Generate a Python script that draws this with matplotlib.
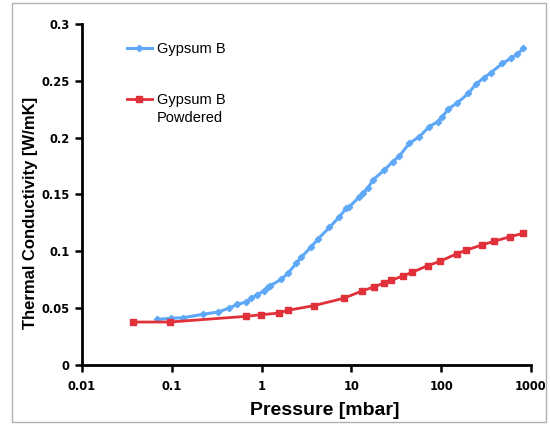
#Thermal conductivity vs pressure grapher

import matplotlib
matplotlib.use('Agg')
import matplotlib.pyplot as plt
from matplotlib.patches import Rectangle

# Gypsum B (blue)
gypsum_p = [0.069, 0.099, 0.134, 0.223, 0.327, 0.43, 0.537, 0.676, 0.769, 0.887,
            1.05, 1.17, 1.23, 1.66, 1.96, 2.43, 2.76, 3.57, 4.22, 5.70, 7.36, 8.73,
            9.5, 12.3, 13.4, 15.2, 17.3, 23.3, 28.8, 34.2, 44.1, 57, 73.6, 91, 103,
            120, 151.7, 201, 243, 300, 357, 480, 595, 705, 821]
gypsum_k = [0.0402, 0.0411, 0.0416, 0.0446, 0.0466, 0.0499, 0.0534, 0.0554, 0.0587, 0.0618,
            0.0650, 0.0683, 0.0695, 0.0754, 0.0806, 0.0894, 0.0947, 0.1040, 0.1106, 0.1211,
            0.1304, 0.1378, 0.1392, 0.1480, 0.1510, 0.1554, 0.1627, 0.1715, 0.1788, 0.1838,
            0.1950, 0.2008, 0.2096, 0.2140, 0.2184, 0.2252, 0.2307, 0.2390, 0.2471, 0.2527,
            0.2571, 0.2653, 0.2697, 0.2735, 0.2785]

# Gypsum B Powdered (red)
powder_p = [0.037, 0.095, 0.67, 0.98, 1.55, 1.96, 3.81, 8.2, 13.1, 18.0, 23.3, 27.8,
            37.2, 47.2, 70.4, 96.8, 149, 191, 288, 388, 580, 815]
powder_k = [0.0378, 0.0378, 0.0428, 0.0442, 0.0457, 0.0481, 0.0522, 0.0587, 0.0651, 0.0689,
            0.0721, 0.0745, 0.0783, 0.0815, 0.0873, 0.0912, 0.0979, 0.1011, 0.1058, 0.1088,
            0.1128, 0.1158]

x_ticks = [0.01, 0.1, 1, 10, 100, 1000]
x_labels = ['0.01', '0.1', '1', '10', '100', '1000']
y_ticks = [0, 0.05, 0.1, 0.15, 0.2, 0.25, 0.3]
y_labels = ['0', '0.05', '0.1', '0.15', '0.2', '0.25', '0.3']

blue = '#5ea8f7'
red = '#e0303a'

plt.rcParams['font.family'] = ['Liberation Sans', 'DejaVu Sans']

fig = plt.figure(figsize=(5.5, 4.25), dpi=100)
ax = fig.add_axes([82/550, 1 - 365/425, (531 - 82)/550, (365 - 24)/425])

ax.plot(gypsum_p, gypsum_k, color=blue, lw=2.2, marker='D', ms=3.2, mec=blue, mfc=blue,
        label='Gypsum B', clip_on=False)
ax.plot(powder_p, powder_k, color=red, lw=2, marker='s', ms=4.5, mec=red, mfc=red,
        label='Gypsum B', clip_on=False)

ax.set_xscale('log')
ax.set_xlim(0.01, 1000)
ax.set_ylim(0, 0.3)
ax.set_xticks(x_ticks)
ax.set_xticklabels(x_labels)
ax.set_yticks(y_ticks)
ax.set_yticklabels(y_labels)
ax.minorticks_off()

for s in ['top', 'right']:
    ax.spines[s].set_visible(False)
for s in ['left', 'bottom']:
    ax.spines[s].set_linewidth(2)
ax.tick_params(axis='both', direction='out', length=5, width=1.8)
ax.tick_params(axis='x', pad=6)
ax.tick_params(axis='y', pad=4)
for lab in ax.get_xticklabels() + ax.get_yticklabels():
    lab.set_fontweight('bold')
    lab.set_family(['DejaVu Sans'])
    lab.set_fontsize(8.3)

ax.set_xlabel('Pressure [mbar]', fontsize=14, fontweight='bold')
ax.xaxis.set_label_coords(0.541, -0.108)
ax.set_ylabel('Thermal Conductivity [W/mK]', fontsize=12, fontweight='bold')
ax.yaxis.set_label_coords(-0.097, 0.446)

leg = ax.legend(loc='upper left', bbox_to_anchor=(0.071, 0.985), frameon=False,
                fontsize=10.5, handlelength=1.7, handletextpad=0.35, labelspacing=2.55)

# second line of the red legend entry sits under the first line
fig.canvas.draw()
bb = leg.get_texts()[1].get_window_extent()
fig.text(bb.x0 / fig.dpi / 5.5, (bb.y0 - 18) / fig.dpi / 4.25, 'Powdered',
         fontsize=10.5, va='bottom', ha='left')

# grey border around the chart area
fig.patches.append(Rectangle((12/550, 3/425), (546 - 12)/550, (422 - 3)/425,
                             transform=fig.transFigure, fill=False, ec='#b0b0b0', lw=1))

fig.savefig('out.png', dpi=100)
